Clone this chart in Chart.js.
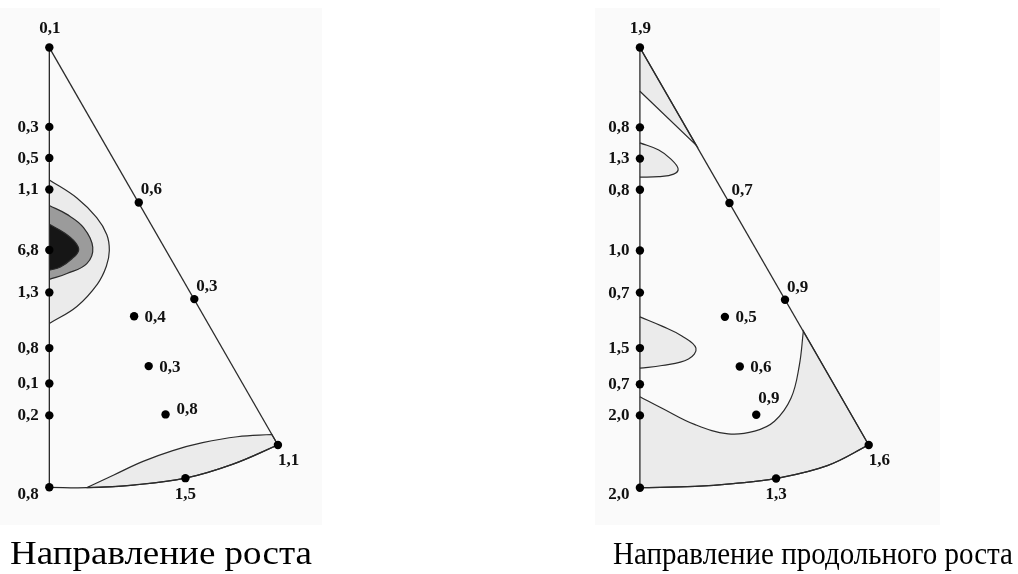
<!DOCTYPE html>
<html>
<head>
<meta charset="utf-8">
<script src="https://cdn.jsdelivr.net/npm/chart.js@4/dist/chart.umd.min.js"></script>
<style>
  html, body { margin: 0; background: #fff; }
  #wrap { width: 1018px; height: 574px; }
</style>
</head>
<body>
<div id="wrap"><canvas id="chart" width="1018" height="574"></canvas></div>
<script>
// picture space: x to the right, y downwards
const W = 1018, H = 574;

// ---- left diagram: "Направление роста" ----
const leftX      = [45.5, 45.5, 45.5, 45.5, 45.5, 45.5, 45.5, 45.5, 45.5, 45.5, 135.7, 191.7, 276, 182.7, 131, 145.7, 162.7];
const leftY      = [44, 124.5, 156, 188, 249.5, 292.5, 349, 385, 417.3, 490.3, 201.3, 299.3, 447.3, 481, 316.7, 367.3, 416.3];
const leftLabels = ['0,1', '0,3', '0,5', '1,1', '6,8', '1,3', '0,8', '0,1', '0,2', '0,8', '0,6', '0,3', '1,1', '1,5', '0,4', '0,3', '0,8'];
const leftSide   = ['top', 'left', 'left', 'left', 'left', 'left', 'left', 'left', 'left', 'leftLow', 'upRight', 'upRight', 'belowRight', 'below', 'right', 'right', 'rightUp'];

// outline
const lEdgeX = [45.5, 45.5], lEdgeY = [44, 490.3];
const lHypX = [45.5, 276], lHypY = [44, 447.3];
const lBaseX = [45.5, 83, 130, 182.7, 230, 276];
const lBaseY = [490.3, 490.7, 488, 481, 467, 447.3];

// contour zones
const lLightX = [45.5, 73.3, 93.3, 103.5, 106, 103, 94, 73.3, 45.5];
const lLightY = [178.3, 196.7, 216.7, 234, 250, 266, 284, 306.7, 324];
const lMedX = [45.5, 63.3, 80, 89.3, 83.3, 63.3, 45.5];
const lMedY = [204.3, 213.3, 226.7, 246.7, 263.3, 273.3, 279.3];
const lDarkX = [45.5, 60, 71.7, 75, 68.3, 56.7, 45.5];
const lDarkY = [223.3, 231.7, 241.7, 250, 258.3, 266.7, 270];
const lLensX = [83, 110, 140, 170, 200, 235, 269.9, 269.9, 276, 276, 230, 182.7, 130, 83];
const lLensY = [490.7, 478, 464, 453, 445, 439, 436.7, 436.7, 447.3, 447.3, 467, 481, 488, 490.7];

// ---- right diagram: "Направление продольного роста" ----
const rightX      = [641, 641, 641, 641, 641, 641, 641, 641, 641, 641, 731.3, 787.3, 871.7, 778.3, 726.7, 741.7, 758.3];
const rightY      = [44, 125, 156.7, 188.3, 250, 292.7, 349, 385.7, 417.3, 490.7, 201.7, 300, 447.3, 481.3, 317.3, 367.7, 416.7];
const rightLabels = ['1,9', '0,8', '1,3', '0,8', '1,0', '0,7', '1,5', '0,7', '2,0', '2,0', '0,7', '0,9', '1,6', '1,3', '0,5', '0,6', '0,9'];
const rightSide   = ['top', 'left', 'left', 'left', 'left', 'left', 'left', 'left', 'left', 'leftLow', 'upRight', 'upRight', 'belowRight', 'below', 'right', 'right', 'aboveRight'];

const rEdgeX = [641, 641], rEdgeY = [44, 490.7];
const rHypX = [641, 871.7], rHypY = [44, 447.3];
const rBaseX = [641, 696.7, 735, 778.3, 830, 871.7];
const rBaseY = [490.7, 489.3, 486.5, 481.3, 468.3, 447.3];

const rSliverX = [641, 698, 641], rSliverY = [44, 143.3, 88.3];
const rLobe1X = [641, 660, 672, 679.5, 675, 660, 641];
const rLobe1Y = [140.7, 148, 157, 167, 172.5, 175, 175.5];
const rLobe2X = [641, 663.3, 683.3, 697.5, 690, 663.3, 641];
const rLobe2Y = [317.3, 326.7, 336.7, 349, 360, 366.7, 369.3];
const rBigX = [641, 663.3, 696.7, 730, 756.7, 776.7, 793.3, 801.7, 805.8, 805.8, 871.7, 871.7, 830, 778.3, 735, 696.7, 641];
const rBigY = [398.3, 410, 426.7, 436, 433.3, 423.3, 400, 366.7, 331.7, 331.7, 447.3, 447.3, 468.3, 481.3, 486.5, 489.3, 490.7];

const captions = ['Направление роста', 'Направление продольного роста'];

const zip = (xs, ys) => xs.map((x, i) => ({x: x, y: ys[i]}));

const LINE = '#2b2b2b';

function edge(xs, ys, tension) {
  return {data: zip(xs, ys), borderColor: LINE, borderWidth: 1.3, fill: false, tension: tension || 0, pointRadius: 0};
}
function zone(xs, ys, color, tension) {
  return {data: zip(xs, ys), borderColor: LINE, borderWidth: 1.2, backgroundColor: color, fill: 'shape',
    tension: tension === undefined ? 0.4 : tension, pointRadius: 0};
}
function dots(xs, ys) {
  return {data: zip(xs, ys), showLine: false, pointRadius: 4.2, pointBackgroundColor: '#000', pointBorderWidth: 0};
}

// first in the list is drawn on top
const datasets = [
  dots(leftX, leftY),
  dots(rightX, rightY),
  edge(lEdgeX, lEdgeY),
  edge(lHypX, lHypY),
  edge(lBaseX, lBaseY, 0.4),
  edge(rEdgeX, rEdgeY),
  edge(rHypX, rHypY),
  edge(rBaseX, rBaseY, 0.4),
  zone(lDarkX, lDarkY, '#161616'),
  zone(lMedX, lMedY, '#9b9b9b'),
  zone(lLightX, lLightY, '#ebebeb'),
  zone(lLensX, lLensY, '#ebebeb'),
  zone(rSliverX, rSliverY, '#ebebeb', 0),
  zone(rLobe1X, rLobe1Y, '#ebebeb'),
  zone(rLobe2X, rLobe2Y, '#ebebeb'),
  zone(rBigX, rBigY, '#ebebeb')
];

const offsets = {
  top: [0.5, -19, 'center'],
  left: [-10.5, 0.5, 'right'],
  leftLow: [-10.5, 7, 'right'],
  upRight: [2, -12.5, 'left'],
  belowRight: [0, 16, 'left'],
  below: [0, 16, 'center'],
  right: [10.5, 1, 'left'],
  rightUp: [11, -4.5, 'left'],
  aboveRight: [2, -16, 'left']
};

const labelPlugin = {
  id: 'labels',
  beforeDraw(chart) {
    const ctx = chart.ctx;
    ctx.save();
    ctx.fillStyle = '#fafafa';
    ctx.fillRect(0, 8, 322, 517);
    ctx.fillRect(595, 8, 345, 517);
    ctx.restore();
  },
  afterDatasetsDraw(chart) {
    const {ctx, scales} = chart;
    const sx = scales.x, sy = scales.y;
    ctx.save();
    ctx.fillStyle = '#111';
    ctx.font = 'bold 17px "Liberation Serif"';
    ctx.textBaseline = 'middle';
    const put = (xs, ys, labels, side) => {
      labels.forEach((t, i) => {
        const o = offsets[side[i]];
        ctx.textAlign = o[2];
        ctx.fillText(t, sx.getPixelForValue(xs[i]) + o[0], sy.getPixelForValue(ys[i]) + o[1]);
      });
    };
    put(leftX, leftY, leftLabels, leftSide);
    put(rightX, rightY, rightLabels, rightSide);

    // captions under the diagrams
    ctx.fillStyle = '#000';
    ctx.textBaseline = 'alphabetic';
    ctx.textAlign = 'left';
    const spots = [[10, 302, 33], [613, 400, 30.5]];
    captions.forEach((t, i) => {
      ctx.font = spots[i][2] + 'px "Liberation Serif"';
      const w = ctx.measureText(t).width;
      ctx.save();
      ctx.translate(spots[i][0], 563.5);
      ctx.scale(spots[i][1] / w, 1);
      ctx.fillText(t, 0, 0);
      ctx.restore();
    });
    ctx.restore();
  }
};

new Chart(document.getElementById('chart'), {
  type: 'line',
  data: {datasets: datasets},
  options: {
    responsive: false,
    animation: false,
    devicePixelRatio: 1,
    layout: {padding: 0},
    scales: {
      x: {type: 'linear', min: 0, max: W, display: false},
      y: {type: 'linear', min: 0, max: H, reverse: true, display: false}
    },
    plugins: {legend: {display: false}, tooltip: {enabled: false}}
  },
  plugins: [labelPlugin]
});
</script>
</body>
</html>
